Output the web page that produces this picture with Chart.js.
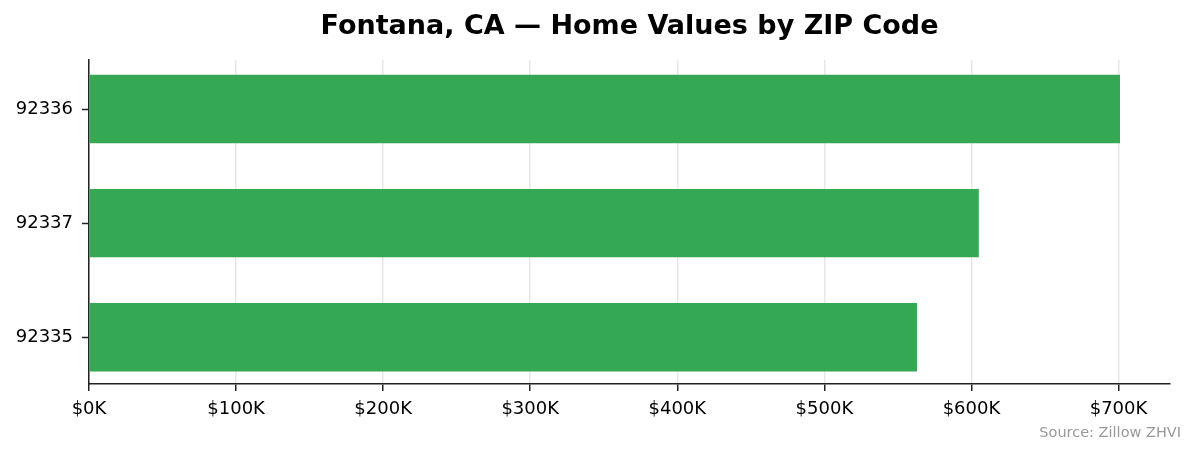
<!DOCTYPE html>
<html>
<head>
<meta charset="utf-8">
<script src="https://cdn.jsdelivr.net/npm/chart.js@4.4.1/dist/chart.umd.min.js"></script>
<style>
  body { margin: 0; background: #fff; }
  #wrap { width: 1195px; height: 455px; }
</style>
</head>
<body>
<div id="wrap"><canvas id="chart-zip"></canvas></div>
<script>
"use strict"

// bottom to top, values in $K
var zips = ['92335', '92337', '92336']
var homeValues = [563, 605, 701]
var xTicks = [0, 100, 200, 300, 400, 500, 600, 700]

var font = "'DejaVu Sans', sans-serif"

var sourceNote = {
    id: 'sourceNote',
    afterDraw: function (chart) {
        var c = chart.ctx
        c.save()
        c.font = '14.5px ' + font
        c.fillStyle = '#999999'
        c.textAlign = 'right'
        c.textBaseline = 'alphabetic'
        c.fillText('Source: Zillow ZHVI', 1181, 437)
        c.restore()
    }
}

var ctx = document.getElementById('chart-zip').getContext('2d')
var chartZip = new Chart(ctx, {
    type: 'bar',
    data: {
        datasets: [{
            data: zips.map(function (z, i) { return { x: homeValues[i], y: i } }),
            backgroundColor: '#34a853',
            borderWidth: 0,
            barPercentage: 0.6,
            categoryPercentage: 1.0
        }]
    },
    options: {
        indexAxis: 'y',
        responsive: true,
        maintainAspectRatio: false,
        animation: false,
        layout: { padding: { left: 0, right: 25, top: 0, bottom: 0 } },
        plugins: {
            legend: { display: false },
            tooltip: { enabled: false },
            title: {
                display: true,
                text: 'Fontana, CA — Home Values by ZIP Code',
                fullSize: false,
                color: '#000',
                font: { family: font, size: 27, weight: 'bold' },
                padding: { top: 11, bottom: 16.6 }
            }
        },
        scales: {
            x: {
                type: 'linear',
                min: 0,
                max: 735,
                z: 1,
                afterBuildTicks: function (axis) {
                    axis.ticks = xTicks.map(function (v) { return { value: v } })
                },
                afterFit: function (axis) { axis.height = 71 },
                grid: {
                    color: 'rgba(176,176,176,0.3)',
                    lineWidth: 1.5,
                    tickColor: '#222',
                    tickWidth: 1.5,
                    tickLength: 7
                },
                border: { display: true, color: '#222', width: 1.5 },
                ticks: {
                    color: '#000',
                    padding: 8,
                    font: { family: font, size: 18 },
                    callback: function (v) { return '$' + v + 'K' }
                }
            },
            y: {
                type: 'linear',
                min: -0.41,
                max: 2.43,
                offset: false,
                z: 1,
                afterBuildTicks: function (axis) {
                    axis.ticks = zips.map(function (z, i) { return { value: i } })
                },
                afterFit: function (axis) { axis.width = 89 },
                grid: {
                    offset: false,
                    drawOnChartArea: false,
                    tickColor: '#222',
                    tickWidth: 1.5,
                    tickLength: 7
                },
                border: { display: true, color: '#222', width: 1.5 },
                ticks: {
                    color: '#000',
                    padding: 9,
                    font: { family: font, size: 18 },
                    callback: function (v) { return zips[v] }
                }
            }
        }
    },
    plugins: [sourceNote]
})
</script>
</body>
</html>
